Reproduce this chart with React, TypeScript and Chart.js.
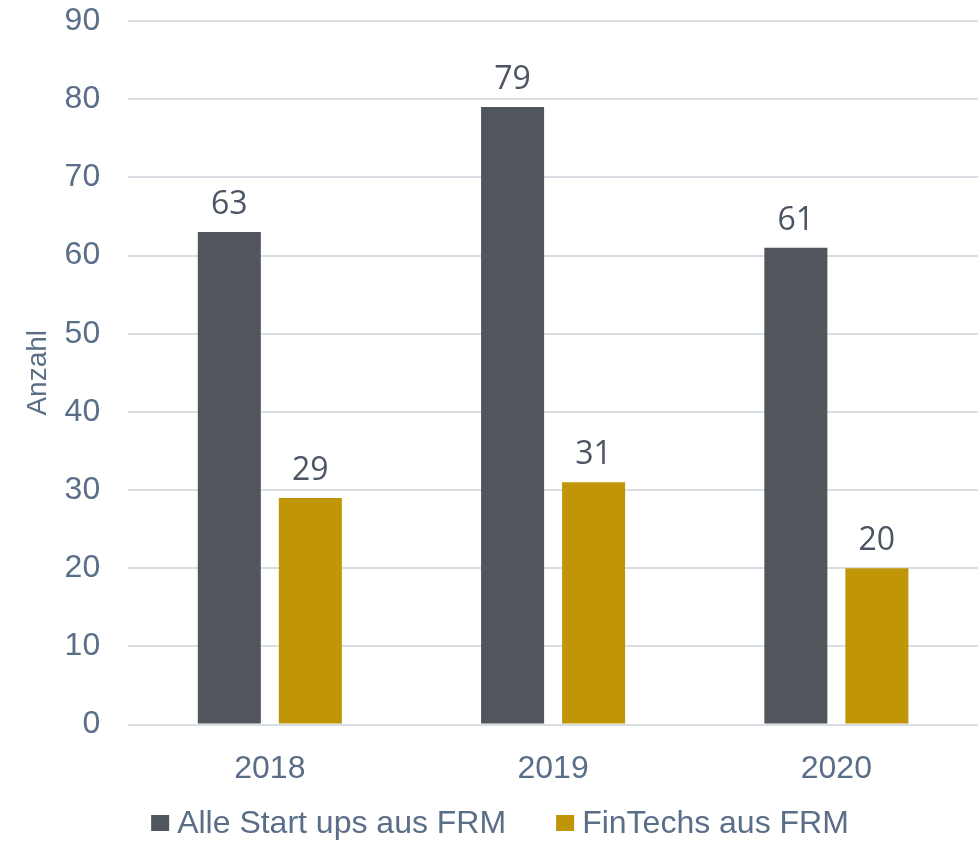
import React, { useEffect, useRef } from "react";
import { Chart, registerables } from "chart.js";

Chart.register(...registerables);

const categories = ["2018", "2019", "2020"];
const allStartups = [63, 79, 61];
const finTechs = [29, 31, 20];
const seriesNames = ["Alle Start ups aus FRM", "FinTechs aus FRM"];
const seriesColors = ["#50565b", "#c09508"];
const yTicks = [0, 10, 20, 30, 40, 50, 60, 70, 80, 90];

const TEXT = "#5b6e88";
const LABEL = "#4b5564";
const SANS = "'Liberation Sans', Arial, sans-serif";

const valueLabels = {
  id: "valueLabels",
  afterDatasetsDraw(chart: any) {
    const ctx = chart.ctx;
    ctx.save();
    ctx.font = "32px 'Open Sans', 'DejaVu Sans', sans-serif";
    ctx.fillStyle = LABEL;
    ctx.textAlign = "center";
    ctx.textBaseline = "alphabetic";
    chart.data.datasets.forEach((ds: any, i: number) => {
      const meta = chart.getDatasetMeta(i);
      meta.data.forEach((el: any, j: number) => {
        ctx.fillText(String(ds.data[j]), el.x, el.y - 18);
      });
    });
    ctx.restore();
  },
};

const customLegend = {
  id: "customLegend",
  afterDraw(chart: any) {
    const ctx = chart.ctx;
    ctx.save();
    ctx.font = `32px ${SANS}`;
    ctx.textBaseline = "middle";
    ctx.textAlign = "left";
    const box = 18;
    const gap = 8;
    const spacing = 50;
    const widths = seriesNames.map((n) => ctx.measureText(n).width);
    const total = widths.reduce((a, w) => a + box + gap + w, 0) + spacing * (seriesNames.length - 1);
    let x = 500 - total / 2;
    const cy = chart.height - 18;
    seriesNames.forEach((n, i) => {
      ctx.fillStyle = seriesColors[i];
      ctx.fillRect(x, cy - 8, box, 16);
      x += box + gap;
      ctx.fillStyle = TEXT;
      ctx.fillText(n, x, cy + 1);
      x += widths[i] + spacing;
    });
    ctx.restore();
  },
};

export default function App() {
  const ref = useRef<HTMLCanvasElement>(null);
  useEffect(() => {
    const chart = new Chart(ref.current!, {
      type: "bar",
      data: {
        labels: categories,
        datasets: seriesNames.map((name, i) => ({
          label: name,
          data: i === 0 ? allStartups : finTechs,
          backgroundColor: seriesColors[i],
          categoryPercentage: 0.572,
          barPercentage: 0.778,
        })),
      },
      options: {
        animation: false,
        responsive: true,
        maintainAspectRatio: false,
        layout: { padding: { left: 6, right: 2, top: 21, bottom: 36 } },
        plugins: {
          tooltip: { enabled: false },
          legend: { display: false },
        },
        scales: {
          x: {
            grid: { display: false },
            border: { display: false },
            ticks: {
              color: TEXT,
              padding: 17,
              font: { size: 32, family: SANS },
            },
          },
          y: {
            min: 0,
            max: 90,
            afterBuildTicks: (axis: any) => {
              axis.ticks = yTicks.map((v) => ({ value: v }));
            },
            grid: {
              color: "#d9dde4",
              lineWidth: 2,
              drawTicks: true,
              tickLength: 28,
              tickColor: "rgba(0,0,0,0)",
            },
            border: { display: false },
            ticks: {
              color: TEXT,
              padding: 0,
              font: { size: 32, family: SANS },
            },
            title: {
              display: true,
              text: "Anzahl",
              color: TEXT,
              padding: { top: 15, bottom: 10 },
              font: { size: 28, family: SANS },
            },
          },
        },
      },
      plugins: [valueLabels, customLegend],
    });
    return () => chart.destroy();
  }, []);
  return (
    <div style={{ position: "absolute", left: 0, top: 0, width: 980, height: 841 }}>
      <canvas ref={ref} />
    </div>
  );
}
